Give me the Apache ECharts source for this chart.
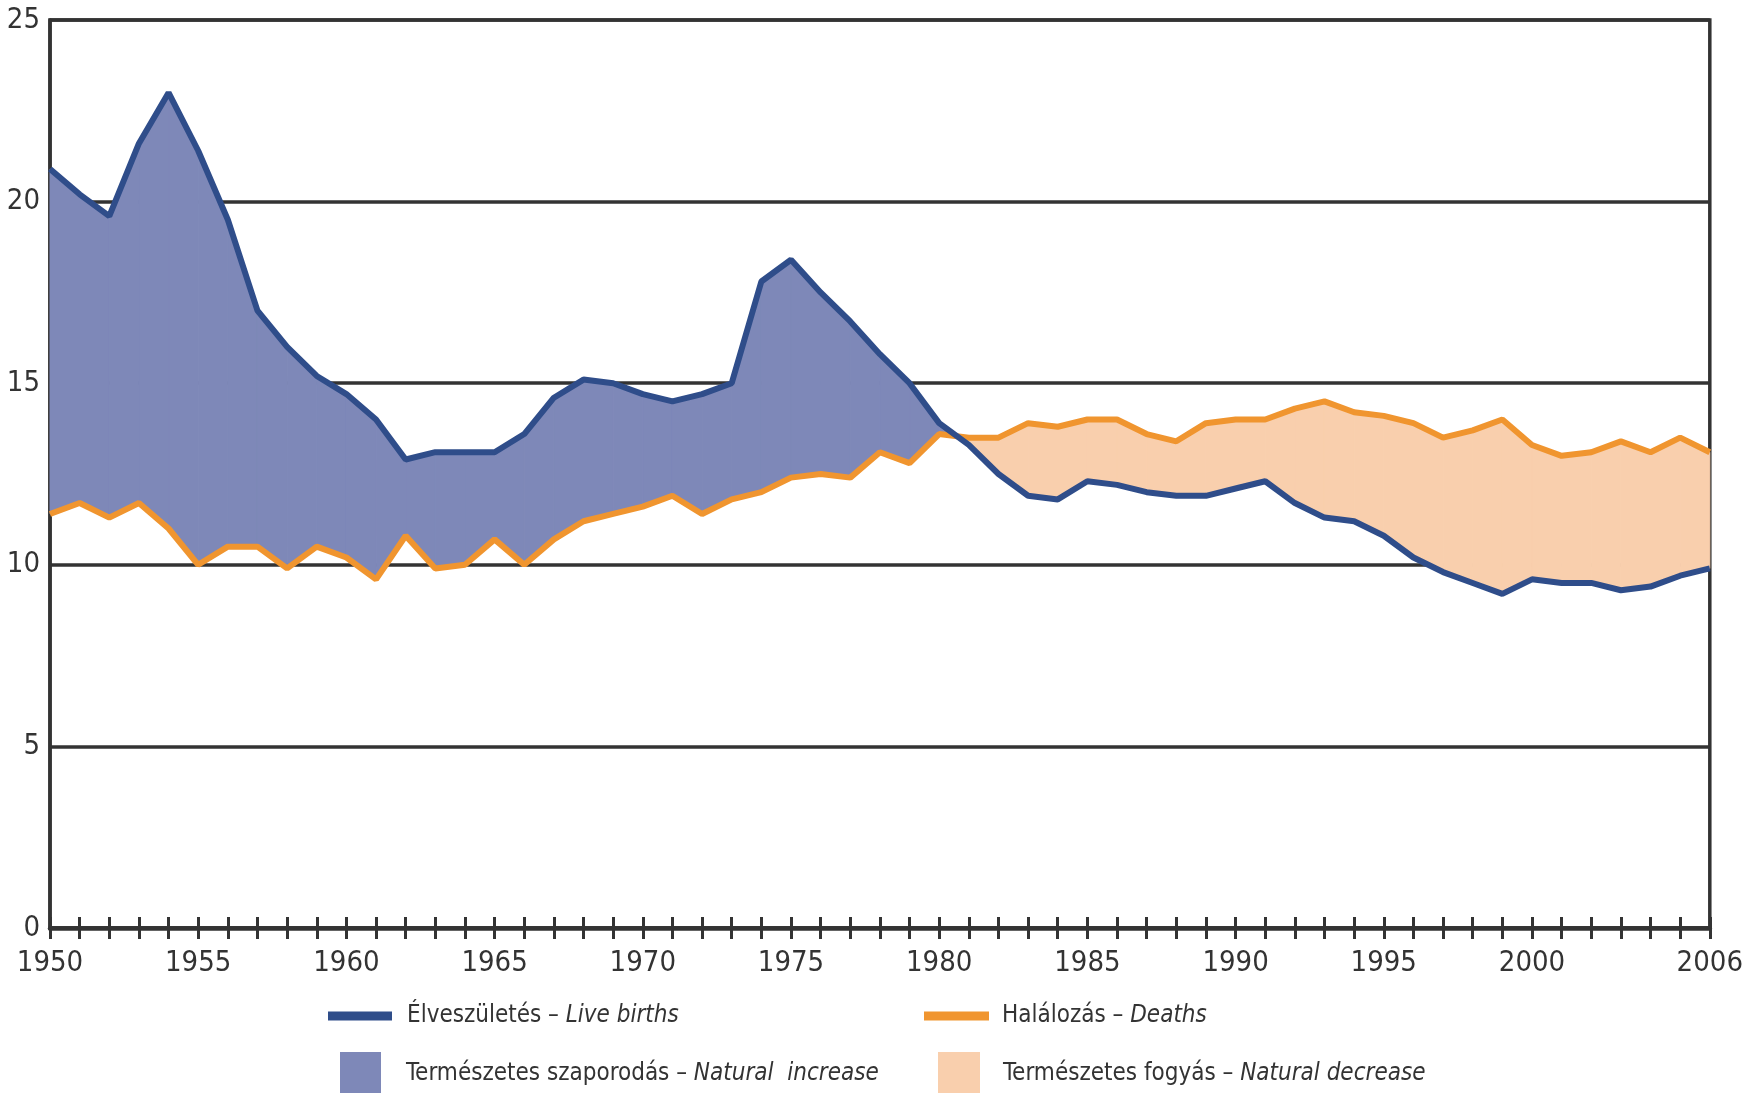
<!DOCTYPE html>
<html><head><meta charset="utf-8">
<script src="https://cdn.jsdelivr.net/npm/echarts@6/dist/echarts.min.js"></script>
<style>html,body{margin:0;padding:0;background:#fff}#c{width:1746px;height:1093px}</style>
</head><body><div id="c"></div>
<script>
const years = ['1950','1951','1952','1953','1954','1955','1956','1957','1958','1959',
  '1960','1961','1962','1963','1964','1965','1966','1967','1968','1969',
  '1970','1971','1972','1973','1974','1975','1976','1977','1978','1979',
  '1980','1981','1982','1983','1984','1985','1986','1987','1988','1989',
  '1990','1991','1992','1993','1994','1995','1996','1997','1998','1999',
  '2000','2001','2002','2003','2004','2005','2006'];
const liveBirths = [20.9,20.2,19.6,21.6,23.0,21.4,19.5,17.0,16.0,15.2,
  14.7,14.0,12.9,13.1,13.1,13.1,13.6,14.6,15.1,15.0,
  14.7,14.5,14.7,15.0,17.8,18.4,17.5,16.7,15.8,15.0,
  13.9,13.3,12.5,11.9,11.8,12.3,12.2,12.0,11.9,11.9,
  12.1,12.3,11.7,11.3,11.2,10.8,10.2,9.8,9.5,9.2,
  9.6,9.5,9.5,9.3,9.4,9.7,9.9];
const deaths = [11.4,11.7,11.3,11.7,11.0,10.0,10.5,10.5,9.9,10.5,
  10.2,9.6,10.8,9.9,10.0,10.7,10.0,10.7,11.2,11.4,
  11.6,11.9,11.4,11.8,12.0,12.4,12.5,12.4,13.1,12.8,
  13.6,13.5,13.5,13.9,13.8,14.0,14.0,13.6,13.4,13.9,
  14.0,14.0,14.3,14.5,14.2,14.1,13.9,13.5,13.7,14.0,
  13.3,13.0,13.1,13.4,13.1,13.5,13.1];
const xTickLabels = ['1950','1955','1960','1965','1970','1975','1980','1985','1990','1995','2000','2006'];
const yTickValues = [0,5,10,15,20,25];

const NAME_BIRTHS = 'Élveszületés – Live births';
const NAME_DEATHS = 'Halálozás – Deaths';
const NAME_INC = 'Természetes szaporodás – Natural  increase';
const NAME_DEC = 'Természetes fogyás – Natural decrease';

const FONT = '"Liberation Sans Narrow","Arial Narrow","DejaVu Sans Condensed",sans-serif';
const C_BLUE = '#2f4d8a', C_ORANGE = '#f0952f', C_INC = '#7e88b8', C_DEC = '#f9cfad', C_AX = '#333333';

function makeFill(sign, color) {
  return function (params, api) {
    const i = api.value(0);
    if (i >= years.length - 1) return null;
    const b0 = liveBirths[i], b1 = liveBirths[i + 1], d0 = deaths[i], d1 = deaths[i + 1];
    const pb0 = api.coord([i, b0]), pb1 = api.coord([i + 1, b1]);
    const pd0 = api.coord([i, d0]), pd1 = api.coord([i + 1, d1]);
    const g0 = (b0 - d0) * sign, g1 = (b1 - d1) * sign;
    let pts;
    if (g0 >= 0 && g1 >= 0) pts = [pb0, pb1, pd1, pd0];
    else if (g0 < 0 && g1 < 0) return null;
    else {
      const t = g0 / (g0 - g1);
      const p = [pb0[0] + t * (pb1[0] - pb0[0]), pb0[1] + t * (pb1[1] - pb0[1])];
      pts = g0 >= 0 ? [pb0, p, pd0] : [p, pb1, pd1];
    }
    return { type: 'polygon', shape: { points: pts }, style: { fill: color, stroke: color, lineWidth: 1 } };
  };
}

function legendFor(name, left, top, w, h, padLeft) {
  const parts = name.split(' – ');
  return {
    data: [{ name: name, icon: 'rect' }], left: left, top: top, padding: 0,
    itemWidth: w, itemHeight: h, selectedMode: false,
    formatter: function () { return '{n|' + parts[0] + ' – }{i|' + parts[1] + '}'; },
    textStyle: {
      padding: [0, 0, 0, padLeft],
      rich: {
        n: { fontFamily: FONT, fontSize: 24, color: C_AX },
        i: { fontFamily: FONT, fontSize: 24, color: C_AX, fontStyle: 'italic' }
      }
    }
  };
}

const chart = echarts.init(document.getElementById('c'), null, { renderer: 'canvas' });
const fillData = years.map((y, i) => [i, liveBirths[i]]);
chart.setOption({
  animation: false,
  backgroundColor: '#fff',
  grid: { left: 50, right: 25, top: 20, bottom: 165, show: true, borderColor: C_AX, borderWidth: 3.5, backgroundColor: 'transparent' },
  legend: [
    legendFor(NAME_BIRTHS, 328, 1004, 64, 9, 10),
    legendFor(NAME_DEATHS, 924, 1004, 65, 9, 8),
    legendFor(NAME_INC, 340, 1052, 41, 44, 20),
    legendFor(NAME_DEC, 938, 1052, 42, 44, 18)
  ],
  xAxis: [{
    type: 'category', data: years, boundaryGap: false, position: 'bottom',
    axisLine: { show: true, lineStyle: { color: C_AX, width: 4.5 } },
    axisTick: { show: true, interval: 0, length: 11, lineStyle: { color: C_AX, width: 3 } },
    axisLabel: {
      interval: function (idx, val) { return xTickLabels.indexOf(val) >= 0; },
      showMinLabel: true, showMaxLabel: true, hideOverlap: false,
      fontFamily: FONT, fontSize: 29, color: C_AX, margin: 21
    },
    splitLine: { show: false }
  }, {
    type: 'category', data: years, boundaryGap: false, position: 'bottom', gridIndex: 0,
    axisLine: { show: false },
    axisTick: { show: true, inside: true, interval: 0, length: 11, lineStyle: { color: C_AX, width: 3 } },
    axisLabel: { show: false }, splitLine: { show: false }
  }],
  yAxis: {
    type: 'value', min: yTickValues[0], max: yTickValues[yTickValues.length - 1], interval: 5,
    axisLine: { show: true, lineStyle: { color: C_AX, width: 3.5 } },
    axisTick: { show: false },
    axisLabel: { fontFamily: FONT, fontSize: 29, color: C_AX, margin: 10 },
    splitLine: { show: true, lineStyle: { color: C_AX, width: 3.5 } }
  },
  series: [
    { name: NAME_INC, type: 'custom', coordinateSystem: 'cartesian2d', renderItem: makeFill(1, C_INC),
      data: fillData, encode: { x: 0, y: 1 }, itemStyle: { color: C_INC }, z: 2, silent: true },
    { name: NAME_DEC, type: 'custom', coordinateSystem: 'cartesian2d', renderItem: makeFill(-1, C_DEC),
      data: fillData, encode: { x: 0, y: 1 }, itemStyle: { color: C_DEC }, z: 2, silent: true },
    { name: NAME_BIRTHS, type: 'line', data: liveBirths, symbol: 'none', z: 4,
      lineStyle: { color: C_BLUE, width: 6 }, itemStyle: { color: C_BLUE } },
    { name: NAME_DEATHS, type: 'line', data: deaths, symbol: 'none', z: 3,
      lineStyle: { color: C_ORANGE, width: 6 }, itemStyle: { color: C_ORANGE } }
  ]
});
</script></body></html>
